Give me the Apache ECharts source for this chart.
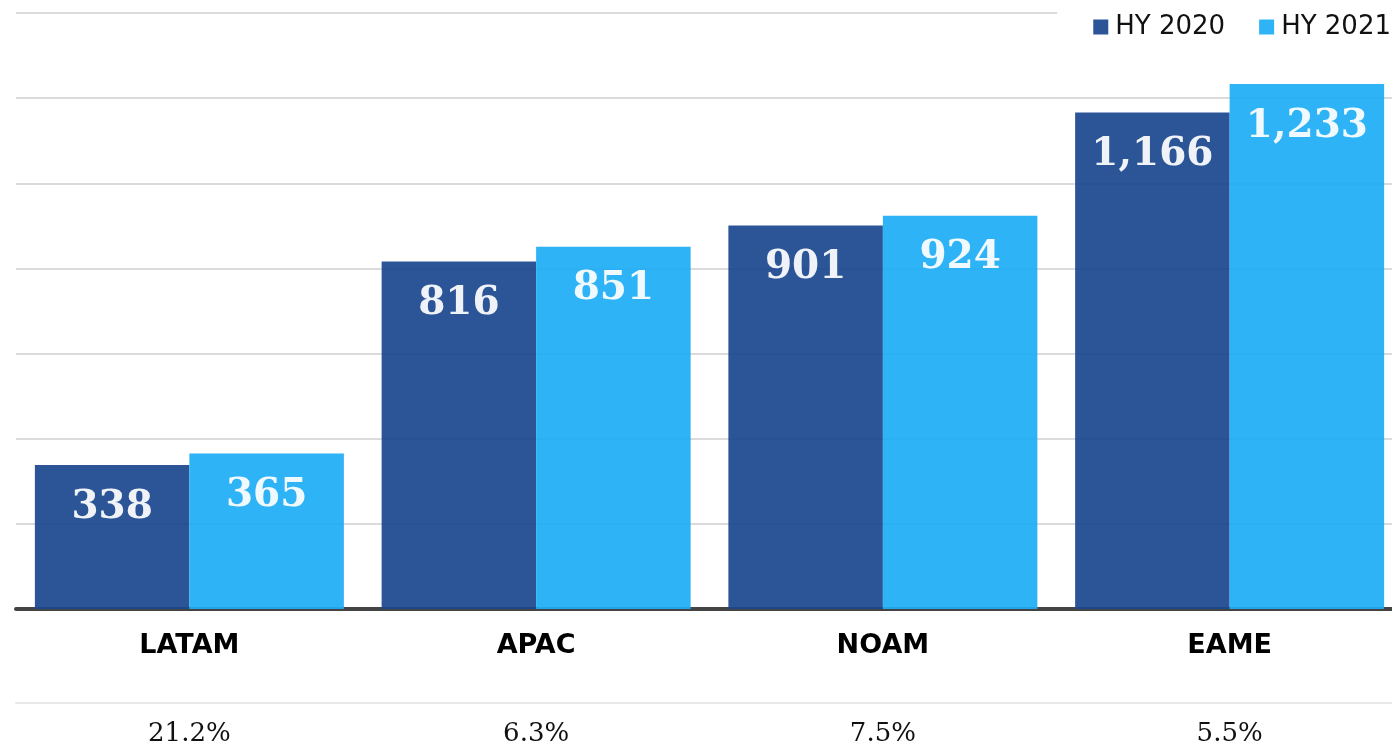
<!DOCTYPE html>
<html>
<head>
<meta charset="utf-8">
<style>
  html, body { margin: 0; padding: 0; background: #ffffff; }
  #chart { width: 1392px; height: 753px; }
</style>
<script src="https://cdn.jsdelivr.net/npm/echarts@6/dist/echarts.min.js"></script>
</head>
<body>
<div id="chart"></div>
<script>
// Regions and half-year sales
const regions = ['LATAM', 'APAC', 'NOAM', 'EAME'];
const hy2020 = [338, 816, 901, 1166];
const hy2021 = [365, 851, 924, 1233];
const growth = ['21.2%', '6.3%', '7.5%', '5.5%'];
const seriesNames = ['HY 2020', 'HY 2021'];

const chart = echarts.init(document.getElementById('chart'), null, { renderer: 'canvas' });

const fmt = v => v.toLocaleString('en-US');

const valueLabel = {
  show: true,
  position: 'insideTop',
  distance: 23,
  color: '#ffffff',
  fontFamily: 'DejaVu Serif',
  fontWeight: 'bold',
  fontSize: 39,
  formatter: p => fmt(p.value)
};

chart.setOption({
  animation: false,
  legend: {
    data: seriesNames,
    right: 0,
    top: 4,
    icon: 'rect',
    itemWidth: 15,
    itemHeight: 15,
    itemGap: 34,
    backgroundColor: '#ffffff',
    padding: [10, 1, 10, 36],
    textStyle: { fontFamily: 'DejaVu Sans', fontSize: 26, color: '#111111', padding: [0, 0, 0, 2] }
  },
  // the plot runs a little past the right edge so the last pair of bars sits close to it
  grid: { left: 16, right: -11, top: 13, bottom: 144, containLabel: false, outerBoundsMode: 'none' },
  xAxis: [
    {
      type: 'category',
      data: regions,
      position: 'bottom',
      axisLine: { lineStyle: { color: '#444444', width: 4 } },
      axisTick: { show: false },
      axisLabel: {
        fontFamily: 'DejaVu Sans',
        fontWeight: 'bold',
        fontSize: 27,
        color: '#000000',
        margin: 23
      }
    },
    {
      type: 'category',
      data: growth,
      position: 'bottom',
      offset: 94,
      axisLine: { lineStyle: { color: '#e8e8e8', width: 2 } },
      axisTick: { show: false },
      axisLabel: {
        fontFamily: 'DejaVu Serif',
        fontSize: 26,
        color: '#111111',
        margin: 18
      }
    }
  ],
  yAxis: {
    type: 'value',
    min: 0,
    max: 1400,
    interval: 200,
    axisLabel: { show: false },
    axisLine: { show: false },
    axisTick: { show: false },
    splitLine: { lineStyle: { color: '#cfcfcf', width: 1.5 } }
  },
  series: [
    {
      name: seriesNames[0],
      type: 'bar',
      data: hy2020,
      barWidth: 154.5,
      barGap: '0%',
      itemStyle: { color: '#1b488f', opacity: 0.93 },
      label: valueLabel
    },
    {
      name: seriesNames[1],
      type: 'bar',
      data: hy2021,
      barWidth: 154.5,
      itemStyle: { color: '#1dadf5', opacity: 0.93 },
      label: valueLabel
    }
  ]
});
</script>
</body>
</html>
